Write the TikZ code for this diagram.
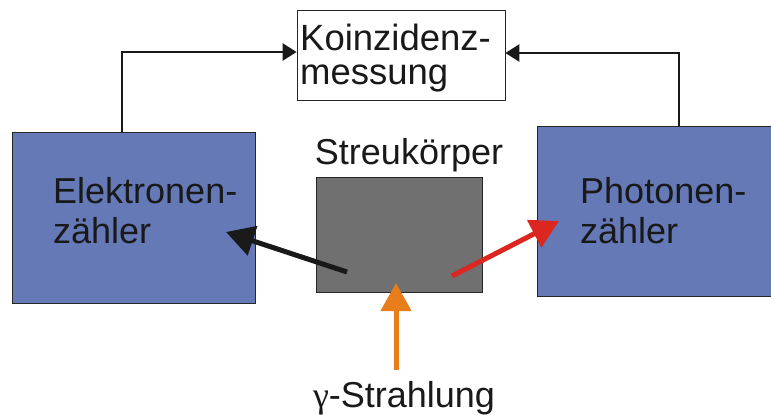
\documentclass[tikz,border=0pt]{standalone}
\usepackage{fontspec}
\setmainfont{Liberation Sans}
\newfontfamily\grkfont{Liberation Serif}
\usetikzlibrary{arrows.meta,calc}
\definecolor{boxblue}{RGB}{100,121,182}
\definecolor{bodygray}{RGB}{112,112,112}
\definecolor{redarr}{RGB}{220,38,32}
\definecolor{orangearr}{RGB}{232,126,26}
\tikzset{
  detector/.style={draw=black!85,line width=1pt,fill=boxblue,inner sep=0pt},
  whitebox/.style={draw=black!85,line width=0.8pt,fill=white,inner sep=0pt},
  body/.style={draw=black!85,line width=0.8pt,fill=bodygray,inner sep=0pt},
  lbl/.style={inner sep=0pt,font=\fontsize{36}{40}\selectfont,align=left,text=black!90},
  conn/.style={line width=2.6pt,draw=black!90,-{Triangle[length=14pt,width=17pt]}},
  beam/.style={line width=5pt,-{Triangle[length=28pt,width=30pt]}}
}
\begin{document}
\begin{tikzpicture}[x=1pt,y=-1pt]
\useasboundingbox (0,0) rectangle (771,416);
% boxes
\node[whitebox,minimum width=208pt,minimum height=90pt] (koinz) at (401,55) {};
\node[detector,minimum width=243pt,minimum height=171pt] (ebox) at (133.5,217.5) {};
\node[detector,minimum width=236pt,minimum height=170pt] (pbox) at (655,211) {};
\node[body,minimum width=166pt,minimum height=115pt] (gray) at (399,234.5) {};
% texts
\node[lbl,anchor=north west,font=\fontsize{36.5}{34}\selectfont] (ktext) at (300,24) {Koinzidenz-\\messung};
\node[lbl,anchor=north west] (etext) at (53,177) {Elektronen-\\zähler};
\node[lbl,anchor=north west] (ptext) at (580,177) {Photonen-\\zähler};
\node[lbl,anchor=base] (streu) at (409,164) {Streukörper};
\node[lbl,anchor=base] (gamma) at (404,407) {{\grkfont γ}-Strahlung};
% connectors
\draw[conn] ($(ebox.north)+(-11.5,0)$) |- ($(koinz.west)+(0,-3)$);
\draw[conn] ($(pbox.north)+(24,0)$) |- ($(koinz.east)+(0,-2)$);
% beams
\coordinate (bstart) at (347,272);
\coordinate (btip) at (226,232);
\coordinate (rstart) at (452,276);
\coordinate (rtip) at (559,221);
\coordinate (ostart) at (396,370);
\coordinate (otip) at (396,283);
\draw[beam,draw=black!90,fill=black!90] (bstart) -- (btip);
\draw[beam,draw=redarr,fill=redarr] (rstart) -- (rtip);
\draw[beam,draw=orangearr,fill=orangearr] (ostart) -- (otip);
\end{tikzpicture}
\end{document}
